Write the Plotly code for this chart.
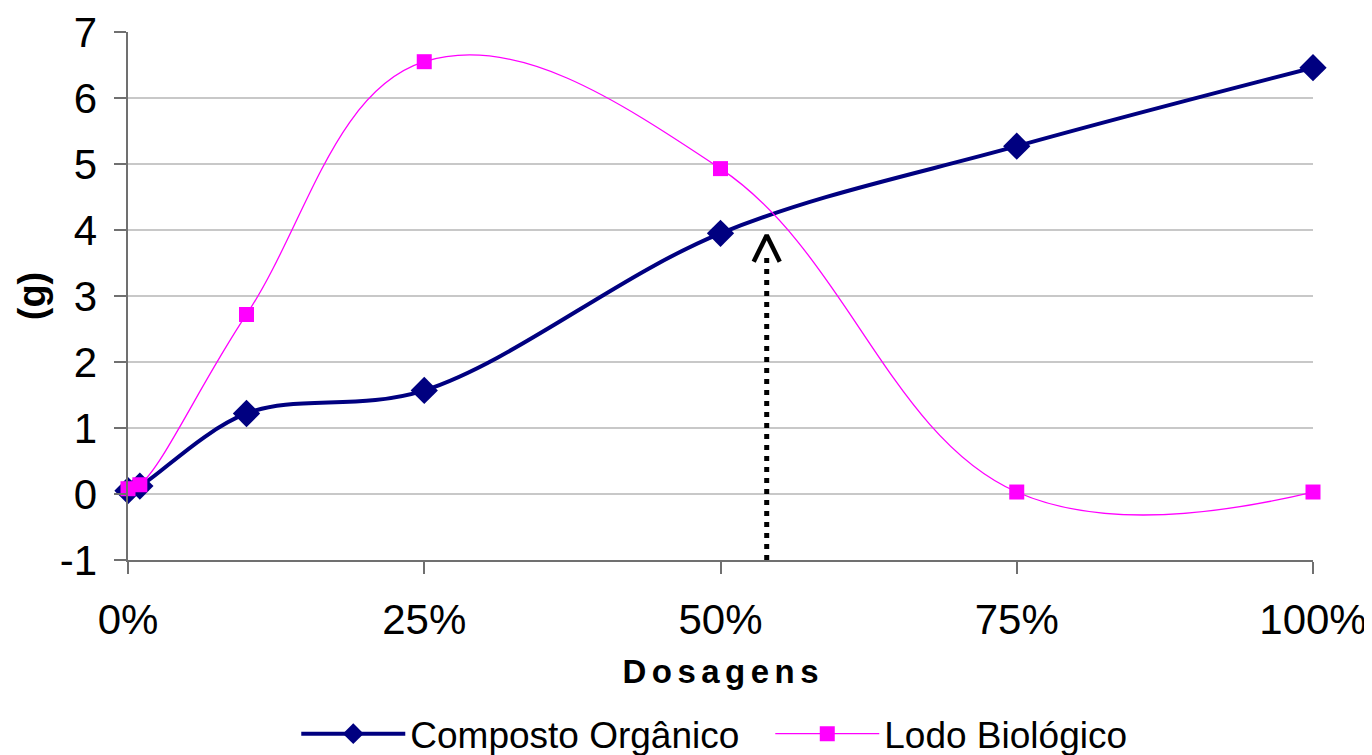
import plotly.graph_objects as go

# ---- data ----
dosagens = [0, 1, 10, 25, 50, 75, 100]
composto = [0.05, 0.12, 1.22, 1.57, 3.95, 5.27, 6.46]
lodo = [0.08, 0.14, 2.72, 6.55, 4.93, 0.03, 0.03]

x_tickvals = [0, 25, 50, 75, 100]
x_ticktext = ["0%", "25%", "50%", "75%", "100%"]
y_tickvals = [-1, 0, 1, 2, 3, 4, 5, 6, 7]
y_ticktext = ["-1", "0", "1", "2", "3", "4", "5", "6", "7"]

# annotation arrow (dotted line pointing at the crossing)
arrow_x = [53.9, 53.9]
arrow_y = [-1.0, 3.62]
chevron_x = [52.8, 53.9, 55.0]
chevron_y = [3.52, 3.92, 3.52]

NAVY = "#000080"
MAGENTA = "#FF00FF"
FONT = "Liberation Sans, Arial, sans-serif"
SP = "\u2006"

fig = go.Figure()

fig.add_trace(go.Scatter(
    x=dosagens, y=composto, name="Composto Orgânico",
    mode="lines+markers",
    line=dict(color=NAVY, width=4, shape="spline", smoothing=1.0),
    marker=dict(symbol="diamond", size=21, color=NAVY),
    cliponaxis=False,
))
fig.add_trace(go.Scatter(
    x=dosagens, y=lodo, name="Lodo Biológico",
    mode="lines+markers",
    line=dict(color=MAGENTA, width=1.3, shape="spline", smoothing=1.15),
    marker=dict(symbol="square", size=15, color=MAGENTA),
    cliponaxis=False,
))
fig.add_trace(go.Scatter(
    x=arrow_x, y=arrow_y, mode="lines", showlegend=False, hoverinfo="skip",
    line=dict(color="black", width=5, dash="5px,6px"),
    cliponaxis=False,
))
fig.add_trace(go.Scatter(
    x=chevron_x, y=chevron_y, mode="lines", showlegend=False, hoverinfo="skip",
    line=dict(color="black", width=4.5),
    cliponaxis=False,
))

fig.update_layout(
    width=1364, height=747,
    margin=dict(l=120, r=59, t=24, b=195),
    paper_bgcolor="white", plot_bgcolor="white",
    font=dict(family=FONT, color="black"),
    legend=dict(
        orientation="h", x=0.142, xanchor="left",
        yref="container", y=0.028, yanchor="middle",
        font=dict(size=37, family=FONT), itemwidth=104,
        entrywidth=355, entrywidthmode="pixels",
        bgcolor="rgba(0,0,0,0)",
    ),
    xaxis=dict(
        range=[0, 100], tickvals=x_tickvals, ticktext=x_ticktext,
        tickfont=dict(size=42, family=FONT),
        showgrid=False, zeroline=False, automargin=False,
        showline=True, linecolor="#707070", linewidth=2,
        ticks="outside", ticklen=12, tickcolor="#707070", tickwidth=2,
        ticklabelstandoff=10,
        title=dict(text=SP.join("Dosagens"),
                   font=dict(size=33, family=FONT, weight="bold"), standoff=17),
    ),
    yaxis=dict(
        range=[-1, 7], tickvals=y_tickvals, ticktext=[t + "\u2009" for t in y_ticktext],
        tickfont=dict(size=42, family=FONT),
        showgrid=True, gridcolor="#C8C8C8", gridwidth=1.5,
        zeroline=False, automargin=False,
        showline=True, linecolor="#707070", linewidth=2,
        ticks="outside", ticklen=12, tickcolor="#707070", tickwidth=2,
        title=dict(text="(g)", font=dict(size=38, family=FONT, weight="bold"), standoff=3),
    ),
)

fig.write_html("out.html")
